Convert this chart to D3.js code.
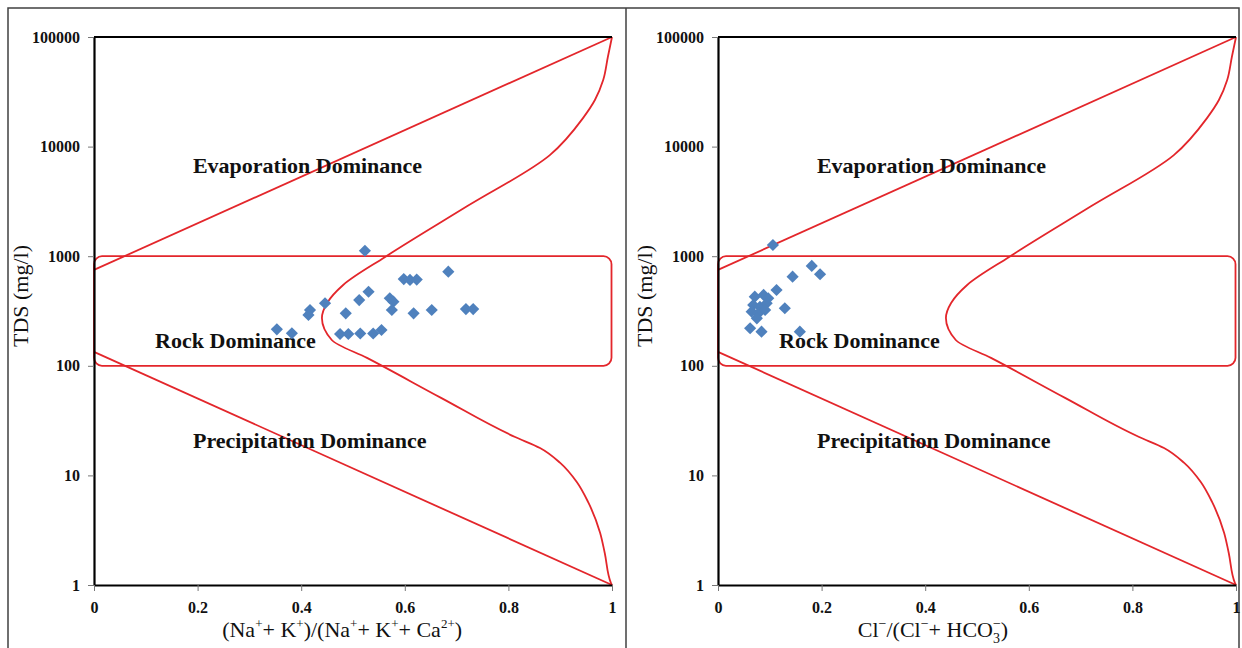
<!DOCTYPE html>
<html>
<head>
<meta charset="utf-8">
<script src="https://cdn.jsdelivr.net/npm/d3@7"></script>
<style>
  body { margin: 0; background: #fff; }
  svg { display: block; font-family: "Liberation Serif", "Times New Roman", serif; }
</style>
</head>
<body>
<svg id="chart" width="1242" height="648"></svg>
<script>
// tick values
const xTicks = [0, 0.2, 0.4, 0.6, 0.8, 1];
const xTickLabels = ['0', '0.2', '0.4', '0.6', '0.8', '1'];
const yTicks = [1, 10, 100, 1000, 10000, 100000];

// samples, cation plot: (Na+K)/(Na+K+Ca) vs TDS
const cationRatio = [0.523, 0.684, 0.598, 0.610, 0.623, 0.530, 0.512, 0.571, 0.578, 0.575,
  0.617, 0.652, 0.718, 0.732, 0.446, 0.417, 0.414, 0.486, 0.353, 0.382,
  0.475, 0.491, 0.514, 0.539, 0.555];
const cationTds = [1122, 722, 618, 608, 612, 474, 398, 413, 385, 323,
  301, 323, 329, 329, 372, 323, 291, 301, 215, 198,
  195, 195, 197, 197, 212];

// samples, anion plot: Cl/(Cl+HCO3) vs TDS
const anionRatio = [0.106, 0.181, 0.197, 0.144, 0.113, 0.129, 0.158, 0.071, 0.088, 0.097,
  0.068, 0.081, 0.094, 0.065, 0.078, 0.091, 0.075, 0.062, 0.084];
const anionTds = [1265, 815, 684, 650, 492, 335, 205, 427, 443, 413,
  359, 346, 372, 312, 301, 323, 271, 220, 205];

// Gibbs boundaries
const upperLineX = [0, 1];
const upperLineTds = [750, 100000];
const lowerLineX = [0, 1];
const lowerLineTds = [134, 1];
const boundaryX = [1.0, 0.992, 0.983, 0.967, 0.944, 0.880, 0.72, 0.562, 0.481, 0.450, 0.440,
  0.459, 0.527, 0.67, 0.813, 0.861, 0.900, 0.932, 0.954, 0.977, 0.986, 0.998, 1.0];
const boundaryTds = [100000, 65700, 40500, 26600, 18200, 8370, 2850, 984, 546, 374, 273,
  172, 118, 51, 22.4, 17.8, 13.0, 8.7, 5.7, 3.0, 1.96, 1.04, 1];
const rockBoxTds = [100, 1000];

const zoneLabels = ['Evaporation Dominance', 'Rock Dominance', 'Precipitation Dominance'];
const zoneX = [0.191, 0.118, 0.191];
const zoneTds = [5740, 145, 17.8];

const panels = [
  { left: 94, ratio: cationRatio, tds: cationTds, labelX: 0.479, label: 'cation' },
  { left: 718, ratio: anionRatio, tds: anionTds, labelX: 0.415, label: 'anion' }
];

const plotW = 518;
const plotTop = 37;
const plotBottom = 585;
const red = '#e3262b';
const blue = '#4f81bd';

const svg = d3.select('#chart');

// outer frame
svg.append('rect')
  .attr('x', 8).attr('y', 8)
  .attr('width', 1231).attr('height', 660)
  .attr('fill', 'none')
  .attr('stroke', '#404040')
  .attr('stroke-width', 1.5);
svg.append('line')
  .attr('x1', 626).attr('x2', 626)
  .attr('y1', 8).attr('y2', 648)
  .attr('stroke', '#404040')
  .attr('stroke-width', 1.5);

panels.forEach(drawPanel);

function drawPanel(p) {
  const x = d3.scaleLinear().domain([0, 1]).range([p.left, p.left + plotW]);
  const y = d3.scaleLog().domain([1, 100000]).range([plotBottom, plotTop]);
  const g = svg.append('g');

  const line = d3.line()
    .x(d => x(d[0]))
    .y(d => y(d[1]));

  // rock dominance box
  g.append('rect')
    .attr('x', x(0))
    .attr('y', y(rockBoxTds[1]))
    .attr('width', x(1) - x(0) - 0.5)
    .attr('height', y(rockBoxTds[0]) - y(rockBoxTds[1]))
    .attr('rx', 8)
    .attr('fill', 'none')
    .attr('stroke', red)
    .attr('stroke-width', 1.8);

  g.append('path')
    .attr('d', line(d3.zip(upperLineX, upperLineTds)))
    .attr('fill', 'none').attr('stroke', red).attr('stroke-width', 1.8);
  g.append('path')
    .attr('d', line(d3.zip(lowerLineX, lowerLineTds)))
    .attr('fill', 'none').attr('stroke', red).attr('stroke-width', 1.8);
  g.append('path')
    .attr('d', line.curve(d3.curveMonotoneY)(d3.zip(boundaryX, boundaryTds)))
    .attr('fill', 'none').attr('stroke', red).attr('stroke-width', 1.8);

  // axes
  const yAxis = g.append('g')
    .attr('transform', `translate(${x(0)},0)`)
    .call(d3.axisLeft(y).tickValues(yTicks).tickSize(6).tickSizeOuter(0).tickPadding(8)
      .tickFormat(d3.format('d')));
  const xAxis = g.append('g')
    .attr('transform', `translate(0,${plotBottom})`)
    .call(d3.axisBottom(x).tickValues(xTicks).tickSize(6).tickSizeOuter(0).tickPadding(11)
      .tickFormat((d, i) => xTickLabels[i]));

  [yAxis, xAxis].forEach(a => {
    a.select('.domain').attr('stroke', '#000').attr('stroke-width', 2.2);
    a.selectAll('.tick line').attr('stroke', '#777');
    a.selectAll('.tick text')
      .attr('fill', '#111')
      .style('font-family', '"Liberation Serif", serif')
      .style('font-size', '16px')
      .style('font-weight', 'bold');
  });

  g.append('line')
    .attr('x1', x(0)).attr('x2', x(1))
    .attr('y1', y(100000)).attr('y2', y(100000))
    .attr('stroke', '#000').attr('stroke-width', 2.2);

  // zone labels
  g.selectAll('text.zone')
    .data(zoneLabels)
    .join('text')
    .attr('class', 'zone')
    .attr('x', (d, i) => x(zoneX[i]))
    .attr('y', (d, i) => y(zoneTds[i]))
    .attr('fill', '#111')
    .style('font-size', '22px')
    .style('font-weight', 'bold')
    .text(d => d);

  // samples
  g.selectAll('path.pt')
    .data(d3.zip(p.ratio, p.tds))
    .join('path')
    .attr('class', 'pt')
    .attr('d', d3.symbol(d3.symbolSquare, 74))
    .attr('transform', d => `translate(${x(d[0])},${y(d[1])}) rotate(45)`)
    .attr('fill', blue);

  // axis titles
  g.append('text')
    .attr('transform', `translate(${p.left - 66},296) rotate(-90)`)
    .attr('text-anchor', 'middle')
    .attr('fill', '#111')
    .style('font-size', '22px')
    .text('TDS (mg/l)');

  const title = g.append('text')
    .attr('x', x(p.labelX))
    .attr('y', 637)
    .attr('text-anchor', 'middle')
    .attr('fill', '#111')
    .style('font-size', '22px');

  if (p.label === 'cation') {
    const parts = [['(Na'], ['+', 1], ['+ K'], ['+', 1], [')/(Na'], ['+', 1], ['+ K'], ['+', 1],
      ['+ Ca'], ['2+', 1], [')']];
    addParts(title, parts);
  } else {
    title.append('tspan').text('Cl');
    title.append('tspan').attr('dy', -9).style('font-size', '14px').text('\u2212');
    title.append('tspan').attr('dy', 9).text('/(Cl');
    title.append('tspan').attr('dy', -9).style('font-size', '14px').text('\u2212');
    title.append('tspan').attr('dy', 9).text('+ HCO');
    title.append('tspan').attr('dy', 6).style('font-size', '14px').text('3');
    title.append('tspan').attr('dy', -15).attr('dx', -7).style('font-size', '14px').text('\u2212');
    title.append('tspan').attr('dy', 9).text(')');
  }
}

function addParts(el, parts) {
  let up = false;
  parts.forEach(([t, sup]) => {
    const s = el.append('tspan').text(t);
    if (sup && !up) { s.attr('dy', -9).style('font-size', '13px'); up = true; }
    else if (!sup && up) { s.attr('dy', 9); up = false; }
  });
}
</script>
</body>
</html>
